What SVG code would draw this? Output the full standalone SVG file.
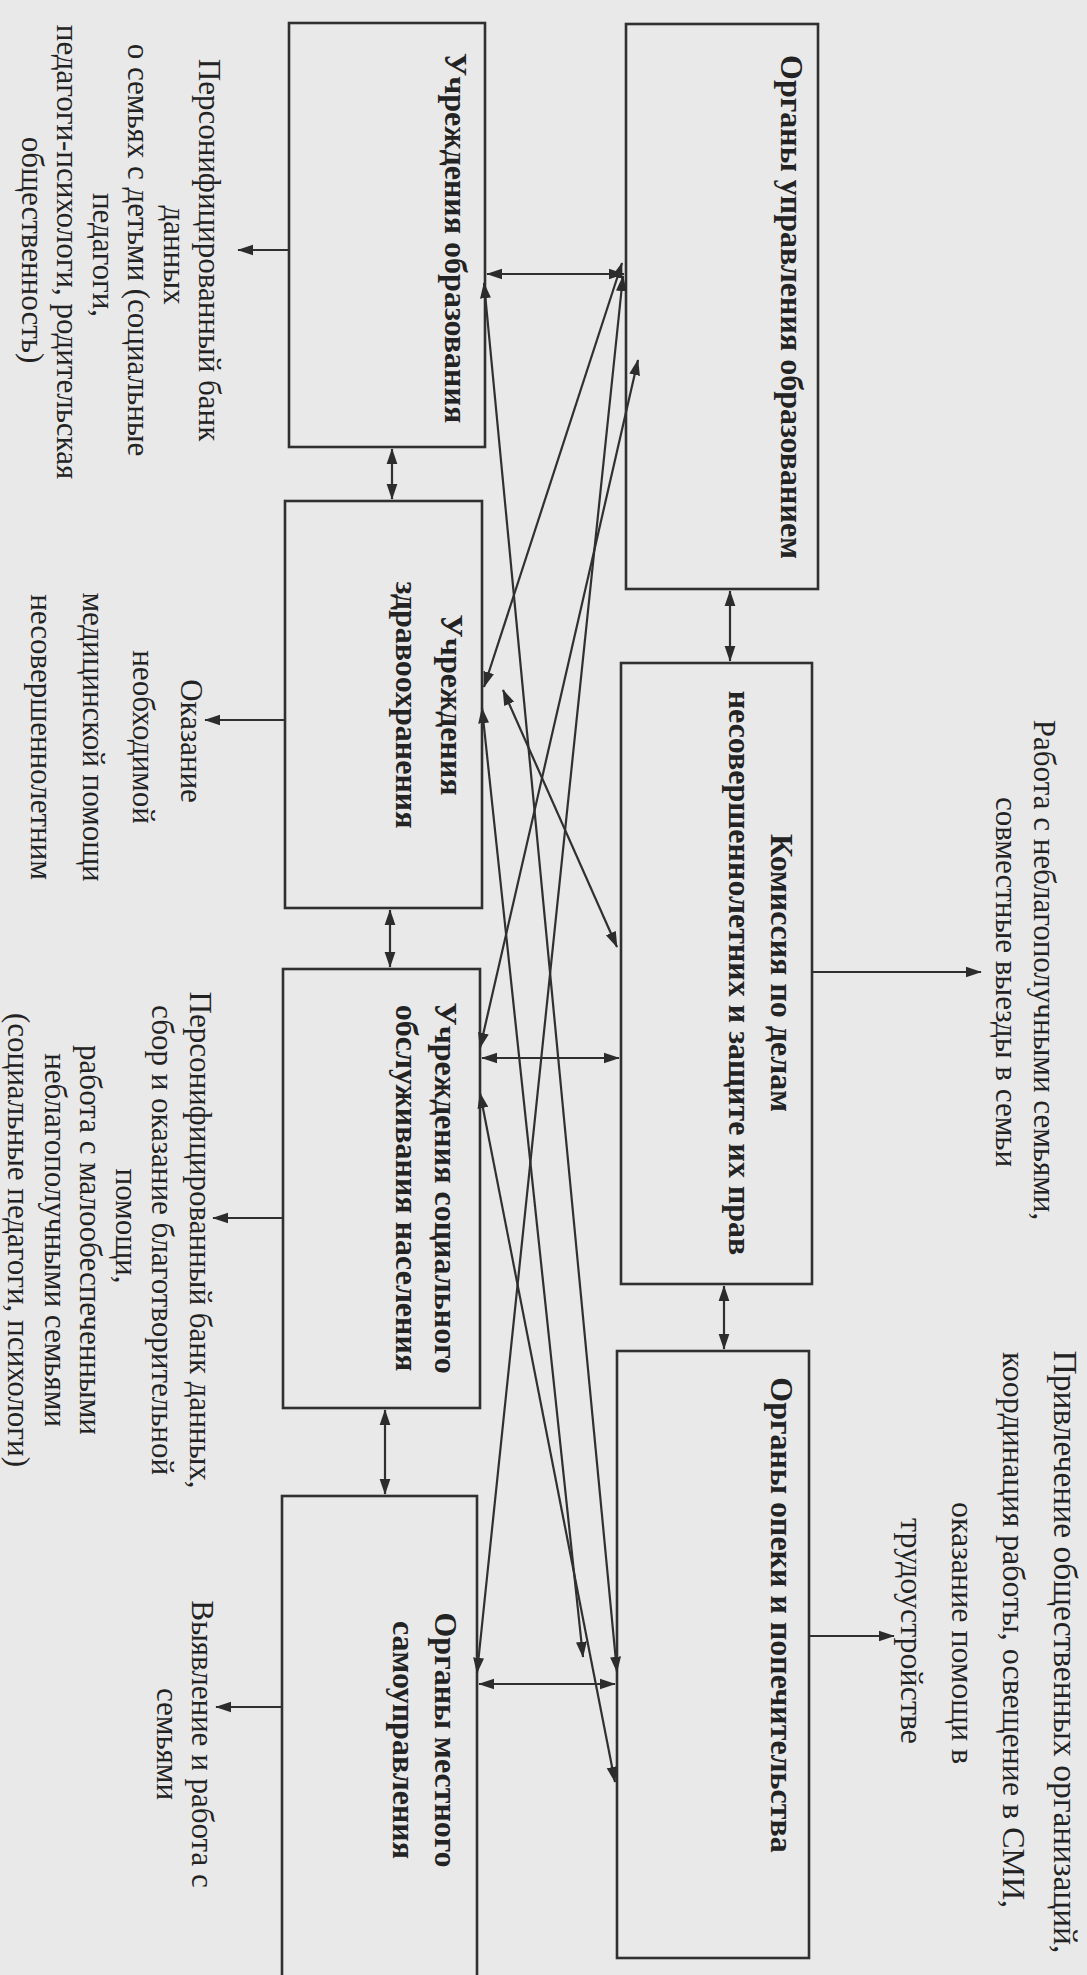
<svg xmlns="http://www.w3.org/2000/svg" width="1087" height="1975" viewBox="0 0 1087 1975">
<defs>
<style>
.box{fill:none;stroke:#303030;stroke-width:2.6}
.t{font-family:"Liberation Serif","DejaVu Serif",serif;font-size:31px;fill:#232323;text-anchor:middle}
.b{font-weight:bold;font-size:32px}
.w{font-size:32px}
.w1{font-size:33.5px}
.c{stroke:#303030;stroke-width:2.2;fill:none}
.one{marker-end:url(#ah)}
.two{marker-start:url(#ah);marker-end:url(#ah)}
</style>
<marker id="ah" viewBox="0 0 10 10" refX="9.5" refY="5" markerWidth="16" markerHeight="16" markerUnits="userSpaceOnUse" orient="auto-start-reverse">
<path d="M0,1.6 L10,5 L0,8.4 z" fill="#2c2c2c"/>
</marker>
</defs>
<rect x="0" y="0" width="1087" height="1975" fill="#e9e9e9"/>

<g id="node-edu-inst">
<rect class="box" x="289" y="23" width="196" height="424"/>
<text class="t b" transform="translate(445,238) rotate(90)">Учреждения образования</text>
</g>
<g id="node-health-inst">
<rect class="box" x="285" y="501" width="197" height="407"/>
<text class="t b" transform="translate(441,705) rotate(90)">Учреждения</text>
<text class="t b" transform="translate(396,705) rotate(90)">здравоохранения</text>
</g>
<g id="node-social-inst">
<rect class="box" x="283" y="969" width="197" height="439"/>
<text class="t b" transform="translate(435,1188) rotate(90)">Учреждения социального</text>
<text class="t b" transform="translate(396,1188) rotate(90)">обслуживания населения</text>
</g>
<g id="node-local-gov">
<rect class="box" x="282" y="1496" width="195" height="500"/>
<text class="t b" transform="translate(435,1740) rotate(90)">Органы местного</text>
<text class="t b" transform="translate(393,1740) rotate(90)">самоуправления</text>
</g>
<g id="node-edu-admin">
<rect class="box" x="626" y="24" width="192" height="565"/>
<text class="t b" transform="translate(781,307) rotate(90)">Органы управления образованием</text>
</g>
<g id="node-commission">
<rect class="box" x="621" y="663" width="191" height="621"/>
<text class="t b" transform="translate(771,973) rotate(90)">Комиссия по делам</text>
<text class="t b" transform="translate(729,973) rotate(90)">несовершеннолетних и защите их прав</text>
</g>
<g id="node-guardianship">
<rect class="box" x="617" y="1351" width="192" height="607"/>
<text class="t b" transform="translate(771,1615) rotate(90)">Органы опеки и попечительства</text>
</g>

<g id="label-edu">
<text class="t" transform="translate(199,250) rotate(90)">Персонифицированный банк</text>
<text class="t" transform="translate(164,255) rotate(90)">данных</text>
<text class="t" transform="translate(128,250) rotate(90)">о семьях с детьми (социальные</text>
<text class="t" transform="translate(93,255) rotate(90)">педагоги,</text>
<text class="t" transform="translate(57,252) rotate(90)">педагоги-психологи, родительская</text>
<text class="t" transform="translate(22,250) rotate(90)">общественность)</text>
</g>
<g id="label-health">
<text class="t" transform="translate(181,741) rotate(90)">Оказание</text>
<text class="t" transform="translate(133,737) rotate(90)">необходимой</text>
<text class="t" transform="translate(83,737) rotate(90)">медицинской помощи</text>
<text class="t" transform="translate(31,737) rotate(90)">несовершеннолетним</text>
</g>
<g id="label-social">
<text class="t" transform="translate(190,1240) rotate(90)">Персонифицированный банк данных,</text>
<text class="t" transform="translate(152,1240) rotate(90)">сбор и оказание благотворительной</text>
<text class="t" transform="translate(116,1226) rotate(90)">помощи,</text>
<text class="t" transform="translate(80,1240) rotate(90)">работа с малообеспеченными</text>
<text class="t" transform="translate(45,1240) rotate(90)">неблагополучными семьями</text>
<text class="t" transform="translate(8,1240) rotate(90)">(социальные педагоги, психологи)</text>
</g>
<g id="label-local">
<text class="t" transform="translate(192,1744) rotate(90)">Выявление и работа с</text>
<text class="t" transform="translate(157,1744) rotate(90)">семьями</text>
</g>
<g id="label-commission">
<text class="t" transform="translate(1034,970) rotate(90)">Работа с неблагополучными семьями,</text>
<text class="t" transform="translate(996,982) rotate(90)">совместные выезды в семьи</text>
</g>
<g id="label-guardianship">
<text class="t w1" transform="translate(1054,1652) rotate(90)">Привлечение общественных организаций,</text>
<text class="t w" transform="translate(1003,1630) rotate(90)">координация работы, освещение в СМИ,</text>
<text class="t w" transform="translate(952,1633) rotate(90)">оказание помощи в</text>
<text class="t w" transform="translate(901,1631) rotate(90)">трудоустройстве</text>
</g>

<g id="connectors">
<line class="c two" x1="487" y1="274" x2="624" y2="274"/>
<line class="c two" x1="482" y1="1058" x2="619" y2="1058"/>
<line class="c two" x1="479" y1="1684" x2="615" y2="1684"/>
<line class="c two" x1="392" y1="449" x2="392" y2="499"/>
<line class="c two" x1="390" y1="910" x2="390" y2="967"/>
<line class="c two" x1="385" y1="1410" x2="385" y2="1494"/>
<line class="c two" x1="730" y1="591" x2="730" y2="661"/>
<line class="c two" x1="724" y1="1286" x2="724" y2="1349"/>
<line class="c one" x1="289" y1="250" x2="238" y2="250"/>
<line class="c one" x1="285" y1="720" x2="205" y2="720"/>
<line class="c one" x1="283" y1="1218" x2="213" y2="1218"/>
<line class="c one" x1="282" y1="1707" x2="216" y2="1707"/>
<line class="c one" x1="812" y1="972" x2="981" y2="972"/>
<line class="c one" x1="809" y1="1636" x2="894" y2="1636"/>
<line class="c two" x1="622" y1="263" x2="484" y2="687"/>
<line class="c two" x1="623" y1="276" x2="477" y2="1673"/>
<line class="c two" x1="638" y1="360" x2="480" y2="1048"/>
<line class="c two" x1="484" y1="283" x2="617" y2="1672"/>
<line class="c two" x1="482" y1="708" x2="583" y2="1657"/>
<line class="c two" x1="480" y1="1093" x2="615" y2="1782"/>
<line class="c two" x1="503" y1="690" x2="617" y2="947"/>
</g>
</svg>
